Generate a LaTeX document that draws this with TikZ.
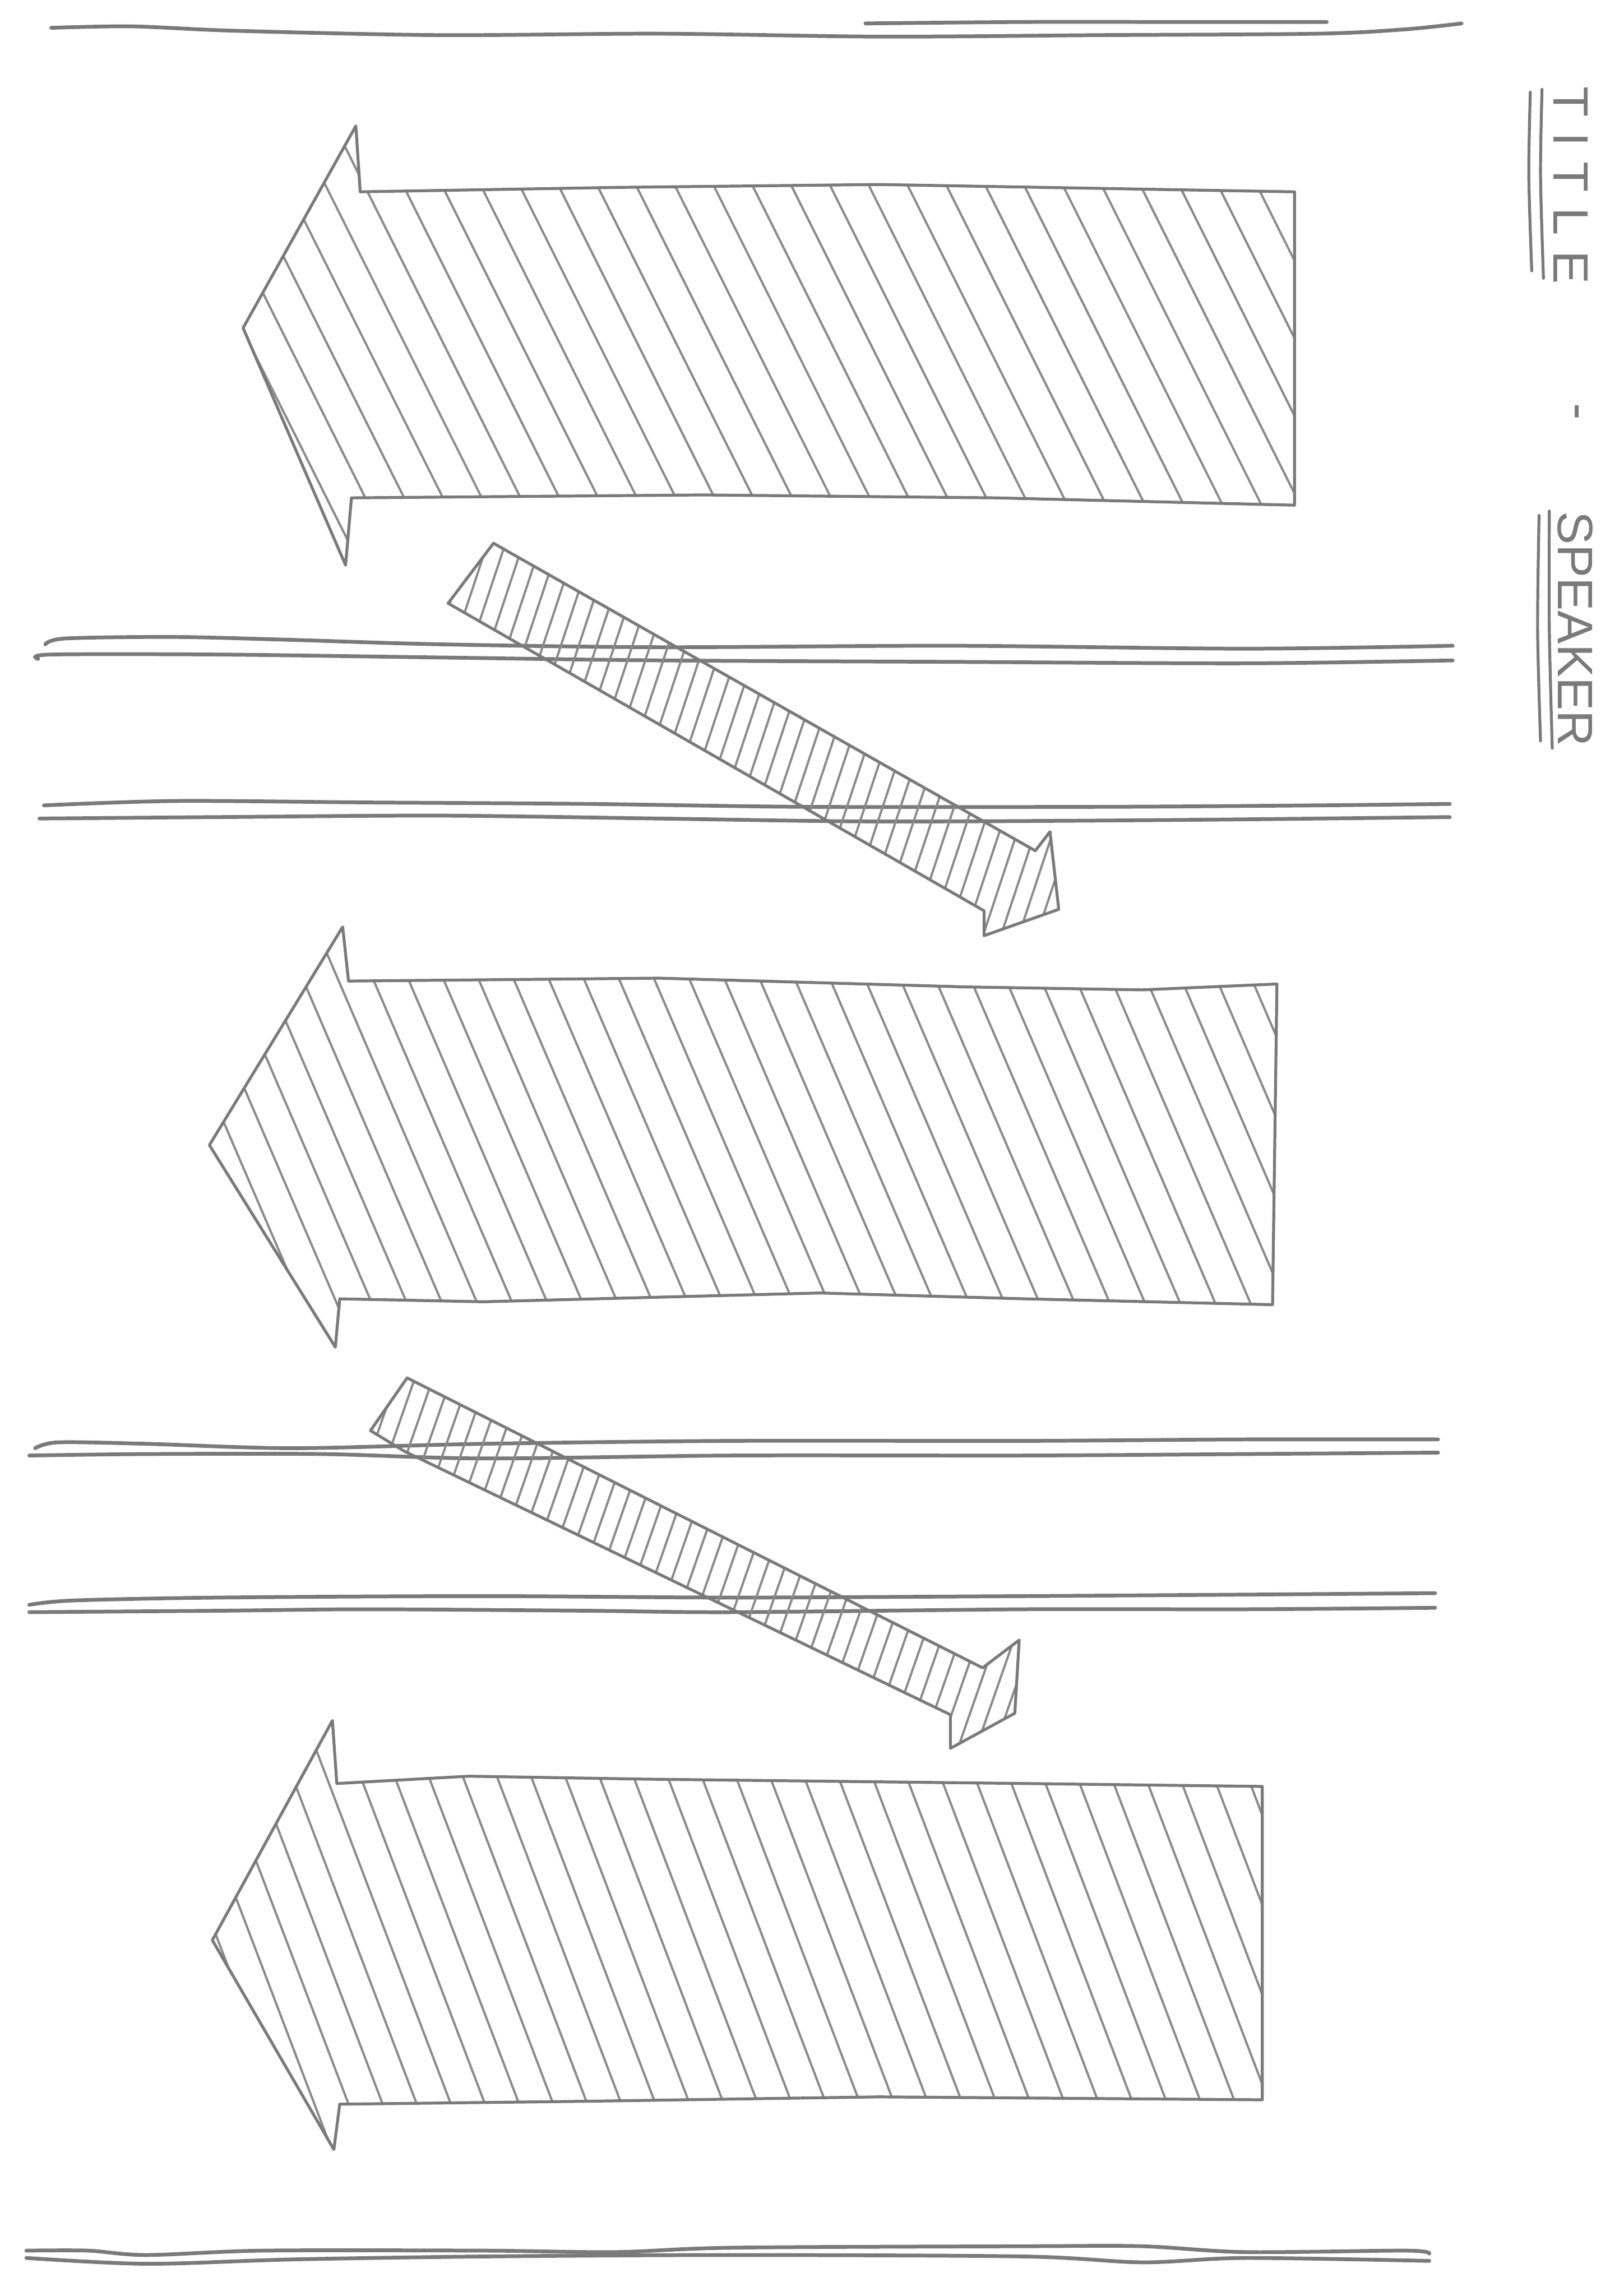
\documentclass[tikz,border=0pt]{standalone}
\usepackage{fontspec}
\setmainfont{Liberation Sans}
\usepackage{xcolor}
\definecolor{PenGray}{RGB}{122,122,122}
\definecolor{HatchGray}{RGB}{138,138,138}
\usepackage{tikz}

\begin{document}
\begin{tikzpicture}[x=0.03cm,y=-0.03cm,
  rule/.style={PenGray,line width=2.2pt,line cap=round},
  pen/.style={PenGray,line width=1.7pt,line join=round,line cap=round},
  hatch/.style={HatchGray,line width=1.3pt,line cap=round},
  lettering/.style={PenGray,font=\fontsize{29}{34}\selectfont,rotate=-90,inner sep=0pt,anchor=base west}]
  \useasboundingbox (0,0) rectangle (1109,1568);

  % page rules
  \draw[rule] plot[smooth] coordinates {(35,19) (90,18) (160,21) (300,24) (450,23) (600,25) (750,24) (900,23) (960,20) (998,16)};
  \draw[rule] plot[smooth] coordinates {(591,16) (700,15) (800,15) (906,15)};
  \draw[rule] plot[smooth] coordinates {(31,440) (45,436) (120,435) (200,437) (300,440) (450,442) (650,441) (850,443) (992,441)};
  \draw[rule] plot[smooth] coordinates {(26,450) (35,447) (150,447) (300,449) (450,451) (650,452) (850,453) (992,451)};
  \draw[rule] plot[smooth] coordinates {(30,550) (120,547) (250,548) (400,549) (550,551) (750,551) (900,550) (990,549)};
  \draw[rule] plot[smooth] coordinates {(27,559) (150,558) (300,557) (450,559) (600,561) (800,560) (990,558)};
  \draw[rule] plot[smooth] coordinates {(24,989) (40,985) (100,986) (200,989) (330,986) (500,984) (700,984) (850,983) (982,983)};
  \draw[rule] plot[smooth] coordinates {(20,994) (100,993) (220,993) (330,996) (500,994) (700,994) (850,993) (982,992)};
  \draw[rule] plot[smooth] coordinates {(20,1096) (50,1093) (150,1091) (330,1090) (500,1091) (700,1090) (850,1089) (980,1088)};
  \draw[rule] plot[smooth] coordinates {(20,1101) (150,1100) (250,1099) (400,1100) (500,1101) (700,1099) (850,1099) (980,1098)};
  \draw[rule] plot[smooth] coordinates {(18,1537) (60,1537) (100,1540) (180,1537) (330,1537) (420,1538) (500,1535) (700,1534) (780,1534) (850,1538) (960,1537) (976,1539)};
  \draw[rule] plot[smooth] coordinates {(18,1542) (100,1546) (200,1543) (330,1541) (500,1540) (700,1541) (780,1545) (850,1542) (976,1544)};

  % big arrows
  \begin{scope}
    \clip (246,131) -- (420,128) -- (600,126) -- (884,131) -- (884,345) -- (680,340) -- (480,338) -- (240,340) -- (236,386) -- (166,224) -- (243,86) -- cycle;
    \foreach \x in {40,66.5,...,900} \draw[hatch] (\x,80) -- ++(155,310);
  \end{scope}
  \draw[pen] (246,131) -- (420,128) -- (600,126) -- (884,131) -- (884,345) -- (680,340) -- (480,338) -- (240,340) -- (236,386) -- (166,224) -- (243,86) -- cycle;

  \begin{scope}
    \clip (238,670) -- (450,668) -- (660,674) -- (780,676) -- (872,672) -- (869,891) -- (700,887) -- (560,883) -- (330,889) -- (232,887) -- (229,920) -- (143,782) -- (234,633) -- cycle;
    \foreach \x in {20,44,...,900} \draw[hatch] (\x,625) -- ++(129,300);
  \end{scope}
  \draw[pen] (238,670) -- (450,668) -- (660,674) -- (780,676) -- (872,672) -- (869,891) -- (700,887) -- (560,883) -- (330,889) -- (232,887) -- (229,920) -- (143,782) -- (234,633) -- cycle;

  \begin{scope}
    \clip (230,1218) -- (320,1213) -- (440,1215) -- (700,1218) -- (862,1220) -- (862,1434) -- (600,1432) -- (400,1435) -- (232,1437) -- (228,1468) -- (145,1325) -- (227,1175) -- cycle;
    \foreach \x in {20,43.3,...,900} \draw[hatch] (\x,1170) -- ++(116,305);
  \end{scope}
  \draw[pen] (230,1218) -- (320,1213) -- (440,1215) -- (700,1218) -- (862,1220) -- (862,1434) -- (600,1432) -- (400,1435) -- (232,1437) -- (228,1468) -- (145,1325) -- (227,1175) -- cycle;

  % small arrows
  \begin{scope}
    \clip (337,371) -- (707,581) -- (717,568) -- (723,621) -- (672,639) -- (672,622) -- (306,412) -- cycle;
    \foreach \x in {300,312.2,...,1000} \draw[hatch] (\x,360) -- ++(-96,290);
  \end{scope}
  \draw[pen] (337,371) -- (707,581) -- (717,568) -- (723,621) -- (672,639) -- (672,622) -- (306,412) -- cycle;

  \begin{scope}
    \clip (278,941) -- (671,1139) -- (696,1120) -- (693,1170) -- (649,1194) -- (649,1171) -- (276,991) -- (253,977) -- cycle;
    \foreach \x in {250,262.4,...,1000} \draw[hatch] (\x,930) -- ++(-94,270);
  \end{scope}
  \draw[pen] (278,941) -- (671,1139) -- (696,1120) -- (693,1170) -- (649,1194) -- (649,1171) -- (276,991) -- (253,977) -- cycle;

  % side title
  \node[lettering] (title) at (1061,59) {T\kern9pt I\kern9pt T\kern9pt L\kern9pt E};
  \node[lettering,anchor=center] (dash) at (1073,281) {-};
  \node[lettering] (speaker) at (1064,349) {SPEAKER};
  \draw[pen] plot[smooth] coordinates {(1045,63) (1044,120) (1046,185)};
  \draw[pen] plot[smooth] coordinates {(1053,61) (1052,120) (1054,190)};
  \draw[pen] plot[smooth] coordinates {(1051,352) (1050,430) (1052,506)};
  \draw[pen] plot[smooth] coordinates {(1058,349) (1058,430) (1060,511)};
\end{tikzpicture}
\end{document}
